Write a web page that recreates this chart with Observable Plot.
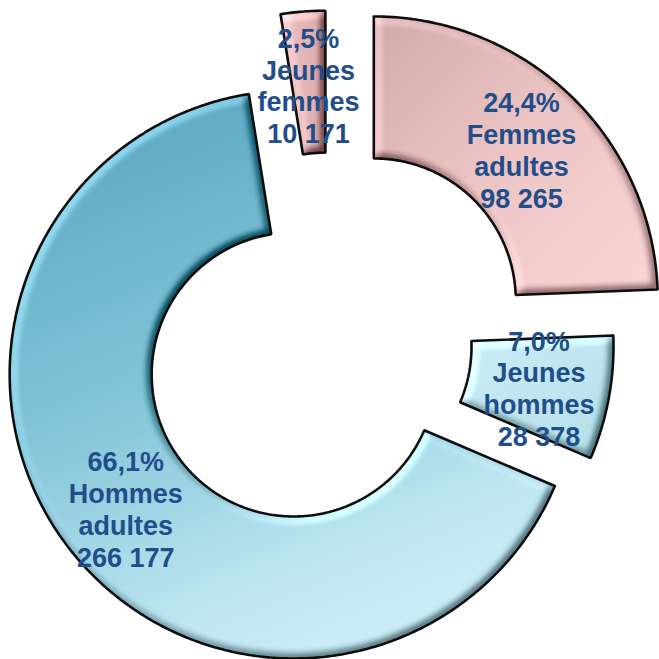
<!DOCTYPE html>
<html>
<head>
<meta charset="utf-8">
<script src="https://cdn.jsdelivr.net/npm/d3@7"></script>
<script src="https://cdn.jsdelivr.net/npm/@observablehq/plot@0.6"></script>
<style>
  html, body { margin: 0; padding: 0; background: #fff; }
  #chart { width: 659px; height: 659px; }
</style>
</head>
<body>
<div id="chart"></div>
<script>
// ---- Data (clockwise from 12 o'clock) ----
const categories = ["Femmes adultes", "Jeunes hommes", "Hommes adultes", "Jeunes femmes"];
const labelLines = [["Femmes", "adultes"], ["Jeunes", "hommes"], ["Hommes", "adultes"], ["Jeunes", "femmes"]];
const values = [98265, 28378, 266177, 10171];
const explode = [0.225, 0, 0.16, 0.183]; // slice offset, in outer-radius units

// ---- Geometry settings ----
const outerR = 1, innerR = 0.5;
const total = d3.sum(values);
const gradIds = categories.map((_, i) => "sliceGrad" + i);

const ringPts = [];
const labels = [];
let acc = 0;
categories.forEach((cat, i) => {
  const a0 = acc / total * 2 * Math.PI;
  acc += values[i];
  const a1 = acc / total * 2 * Math.PI;
  const mid = (a0 + a1) / 2;
  const ox = explode[i] * Math.sin(mid), oy = explode[i] * Math.cos(mid);
  const n = Math.max(4, Math.ceil((a1 - a0) / (Math.PI / 360)));
  const pts = [];
  for (let k = 0; k <= n; k++) {
    const a = a0 + (a1 - a0) * k / n;
    pts.push([ox + outerR * Math.sin(a), oy + outerR * Math.cos(a)]);
  }
  for (let k = n; k >= 0; k--) {
    const a = a0 + (a1 - a0) * k / n;
    pts.push([ox + innerR * Math.sin(a), oy + innerR * Math.cos(a)]);
  }
  pts.push(pts[0], pts[1]);
  pts.forEach(([x, y]) => ringPts.push({cat, x, y}));
  const rm = (outerR + innerR) / 2;
  const pct = (values[i] / total * 100).toFixed(1).replace(".", ",") + "%";
  const num = d3.format(",")(values[i]).replace(/,/g, " ");
  labels.push({cat, x: ox + rm * Math.sin(mid), y: oy + rm * Math.cos(mid),
    text: [pct, ...labelLines[i], num].join("\n")});
});

const W = 659, H = 659;
const cxPx = 329, cyPx = 346, Rpx = 284;

const plot = Plot.plot({
  width: W, height: H,
  margin: 0,
  x: {domain: [-cxPx / Rpx, (W - cxPx) / Rpx], axis: null},
  y: {domain: [-(H - cyPx) / Rpx, cyPx / Rpx], axis: null},
  color: {type: "ordinal", domain: categories, range: gradIds.map(id => `url(#${id})`)},
  style: {background: "white"},
  marks: [
    Plot.line(ringPts, {x: "x", y: "y", z: "cat", fill: "cat", stroke: "none",
      curve: "linear", className: "slices"}),
    Plot.line(ringPts, {x: "x", y: "y", z: "cat", stroke: "#0d0d0d",
      strokeWidth: 2.6, strokeLinejoin: "miter", curve: "linear"}),
    Plot.text(labels, {x: "x", y: "y", text: "text", dy: 3, fontSize: 27, fontWeight: "bold",
      fontFamily: "Liberation Sans, Arial, sans-serif", fill: "#1F4E8A", lineHeight: 1.18})
  ]
});

const defs = `
<defs>
  <linearGradient id="sliceGrad0" x1="0" y1="0" x2="1" y2="1">
    <stop offset="0" stop-color="#d0a9aa"/>
    <stop offset="0.45" stop-color="#ecc3c3"/>
    <stop offset="1" stop-color="#fad6d6"/>
  </linearGradient>
  <linearGradient id="sliceGrad1" x1="0" y1="0" x2="1" y2="1">
    <stop offset="0" stop-color="#cbedf5"/>
    <stop offset="1" stop-color="#b5dfea"/>
  </linearGradient>
  <linearGradient id="sliceGrad2" x1="0.35" y1="0" x2="0.75" y2="1">
    <stop offset="0" stop-color="#5eaac2"/>
    <stop offset="0.45" stop-color="#86c7da"/>
    <stop offset="0.8" stop-color="#c0e7f2"/>
    <stop offset="1" stop-color="#cfeff8"/>
  </linearGradient>
  <linearGradient id="sliceGrad3" x1="0" y1="0" x2="1" y2="0">
    <stop offset="0" stop-color="#ecc2c2"/>
    <stop offset="1" stop-color="#dcaaaa"/>
  </linearGradient>
  <filter id="bevel" x="-5%" y="-5%" width="110%" height="110%" color-interpolation-filters="sRGB">
    <feGaussianBlur in="SourceAlpha" stdDeviation="4" result="blur"/>
    <feDiffuseLighting in="blur" surfaceScale="7" diffuseConstant="0.707" lighting-color="#ffffff" result="light">
      <feDistantLight azimuth="225" elevation="45"/>
    </feDiffuseLighting>
    <feComposite in="SourceGraphic" in2="light" operator="arithmetic" k1="0" k2="1" k3="0.8" k4="-0.4" result="lit"/>
    <feComposite in="lit" in2="SourceAlpha" operator="in"/>
  </filter>
</defs>`;
plot.insertAdjacentHTML("afterbegin", defs);
const g = plot.querySelector("g.slices");
if (g) g.setAttribute("filter", "url(#bevel)");

document.getElementById("chart").appendChild(plot);
</script>
</body>
</html>
